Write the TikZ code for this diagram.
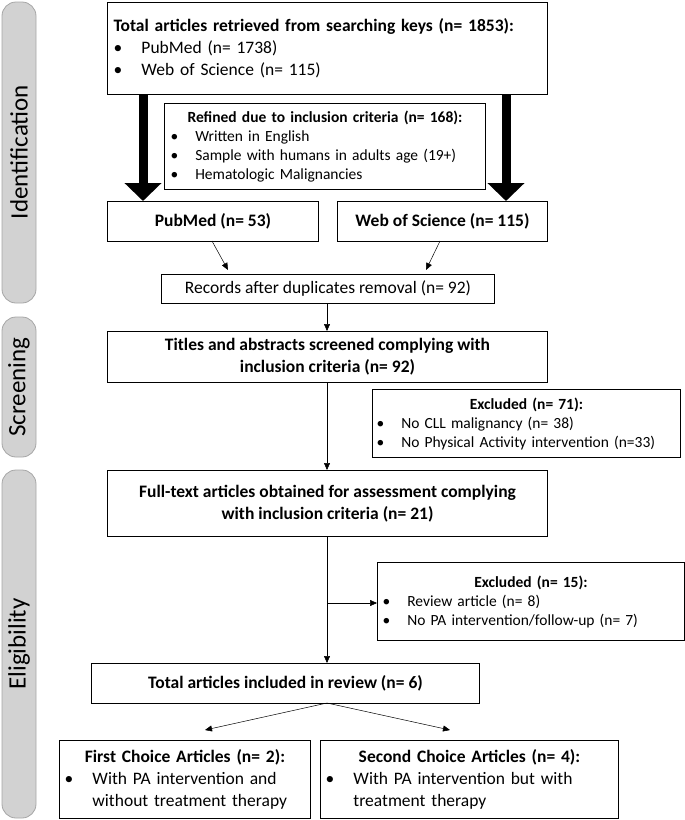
\documentclass[tikz,border=0pt]{standalone}
\usepackage{fontspec}
\setmainfont{Carlito}
\usetikzlibrary{arrows.meta}

\tikzset{
  box/.style={draw, line width=1pt, anchor=north west, inner sep=5pt, font=\fontsize{17.5}{22}\selectfont},
  small/.style={font=\fontsize{15.5}{19}\selectfont},
  phase/.style={draw=gray!70, fill=gray!35, rounded corners=14pt, line width=0.8pt},
  thin arrow/.style={-{Triangle[length=7pt,width=6pt]}, line width=0.5pt},
  fat arrow/.style={-{Triangle[length=18pt,width=36pt]}, line width=9pt}
}
\newcommand{\itm}{\textbullet\hspace{1.1em}}

\begin{document}
\begin{tikzpicture}[x=1pt,y=-1pt]
        \useasboundingbox (0,0) rectangle (685,820);
        % Phases
        \draw[phase] (2,2) rectangle (36,303);
        \draw[phase] (2,317) rectangle (36,457);
        \draw[phase] (2,470) rectangle (36,818);
        \node[rotate=90, font=\fontsize{25}{25}\selectfont] (ident) at (19,152) {Identification};
        \node[rotate=90, font=\fontsize{25}{25}\selectfont] (screen) at (19,387) {Screening};
        \node[rotate=90, font=\fontsize{25}{25}\selectfont] (elig) at (19,644) {Eligibility};
        % Identification
        \node[box, minimum width=440, minimum height=92, text width=428, inner sep=6pt, align=left] (total) at (107,2)
          {\textbf{Total articles retrieved from searching keys (n= 1853):}\\ \itm PubMed (n= 1738)\\ \itm Web of Science (n= 115)};
        \node[box, small, minimum width=321, minimum height=86, text width=309, inner sep=3pt, align=left] (refined) at (164,103)
          {\makebox[309pt]{\textbf{Refined due to inclusion criteria (n= 168):}}\\ \itm Written in English\\ \itm Sample with humans in adults age (19+)\\ \itm Hematologic Malignancies};
        \node[box, minimum width=211, minimum height=40] (pubmed) at (107,201) {\textbf{PubMed (n= 53)}};
        \node[box, minimum width=210, minimum height=40] (wos) at (337,201) {\textbf{Web of Science (n= 115)}};
        \node[box, minimum width=333, minimum height=29, inner sep=2pt] (records) at (161,274) {Records after duplicates removal (n= 92)};
        \coordinate (fatL) at (143,94);
        \coordinate (fatR) at (506,94);
        \draw[fat arrow] (fatL) -- (pubmed.north -| fatL);
        \draw[fat arrow] (fatR) -- (wos.north -| fatR);
        \coordinate (pmout) at (212,241);
        \coordinate (wosout) at (440,241);
        \draw[thin arrow] (pmout) -- (228,270);
        \draw[thin arrow] (wosout) -- (426,270);
        % Screening
        \node[box, minimum width=440, minimum height=51, align=center] (titles) at (107,331)
          {\textbf{Titles and abstracts screened complying with}\\ \textbf{inclusion criteria (n= 92)}};
        \node[box, small, minimum width=308, minimum height=68, text width=300, inner sep=3pt, align=left] (excl1) at (372,389)
          {\makebox[300pt]{\textbf{Excluded (n= 71):}}\\ \itm No CLL malignancy (n= 38)\\ \itm No Physical Activity intervention (n=33)};
        % Eligibility
        \node[box, minimum width=440, minimum height=66, align=center] (full) at (107,470)
          {\textbf{Full-text articles obtained for assessment complying}\\ \textbf{with inclusion criteria (n= 21)}};
        \node[box, small, minimum width=307, minimum height=78, text width=297, align=left] (excl2) at (377,562)
          {\makebox[297pt]{\textbf{Excluded (n= 15):}}\\ \itm Review article (n= 8)\\ \itm No PA intervention/follow-up (n= 7)};
        \node[box, minimum width=388, minimum height=40] (included) at (91,663) {\textbf{Total articles included in review (n= 6)}};
        \node[box, minimum width=251, minimum height=78, text width=241, align=left] (first) at (59,740)
          {\makebox[241pt]{\textbf{First Choice Articles (n= 2):}}\\ \itm With PA intervention and\\ \phantom{\itm}without treatment therapy};
        \node[box, minimum width=298, minimum height=78, text width=288, align=left] (second) at (320,740)
          {\makebox[288pt]{\textbf{Second Choice Articles (n= 4):}}\\ \itm With PA intervention but with\\ \phantom{\itm}treatment therapy};
        % Flow
        \coordinate (spine) at (327,0);
        \coordinate (branch) at (327,603);
        \coordinate (split) at (327,703);
        \draw[thin arrow] (records.south -| spine) -- (titles.north -| spine);
        \draw[thin arrow] (titles.south -| spine) -- (full.north -| spine);
        \draw[thin arrow] (full.south -| spine) -- (included.north -| spine);
        \draw[thin arrow] (branch) -- (excl2.west |- branch);
        \draw[thin arrow] (split) -- (205,730);
        \draw[thin arrow] (split) -- (450,730);
\end{tikzpicture}
\end{document}
